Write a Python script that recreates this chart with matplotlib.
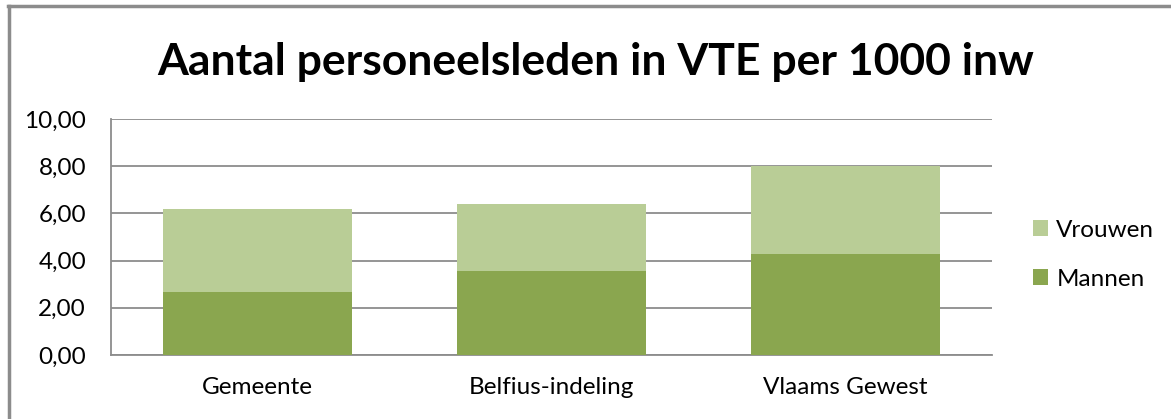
import matplotlib.pyplot as plt
import numpy as np
from matplotlib.lines import Line2D

plt.rcParams['font.family'] = ['Lato', 'DejaVu Sans']

# data
categories = ['Gemeente', 'Belfius-indeling', 'Vlaams Gewest']
mannen = [2.67, 3.56, 4.28]
vrouwen = [3.52, 2.84, 3.73]
yticks = [0, 2, 4, 6, 8, 10]

c_man = '#8AA64F'
c_vrouw = '#B9CD96'
c_grid = '#8C8C8C'

fig = plt.figure(figsize=(11.71, 4.19), dpi=100)
ax = fig.add_axes([111/1171, 1-355/419, (992-111)/1171, (355-119)/419])

x = np.arange(len(categories))
ax.bar(x, mannen, width=0.643, color=c_man, label='Mannen', zorder=3)
ax.bar(x, vrouwen, bottom=mannen, width=0.643, color=c_vrouw, label='Vrouwen', zorder=3)

ax.set_xlim(-0.5, 2.5)
ax.set_ylim(0, 10)
ax.set_yticks(yticks)
ax.yaxis.set_major_formatter(plt.FuncFormatter(lambda v, p: ('%.2f' % v).replace('.', ',')))
ax.set_xticks(x)
ax.set_xticklabels(categories)
ax.tick_params(axis='both', length=0, labelsize=17.5, colors='black')
ax.tick_params(axis='y', pad=18)
ax.tick_params(axis='x', pad=15.5)

ax.grid(axis='y', color=c_grid, lw=1.3, zorder=0)
for s in ['top', 'right']:
    ax.spines[s].set_visible(False)
for s in ['left', 'bottom']:
    ax.spines[s].set_color(c_grid)
    ax.spines[s].set_linewidth(1.3)

h, l = ax.get_legend_handles_labels()
ax.legend(h[::-1], l[::-1], loc='center left', bbox_to_anchor=(1.022, 0.425), frameon=False,
          fontsize=17.5, handlelength=0.6, handleheight=0.6, handletextpad=0.35, labelspacing=1.15)

fig.text(0.509, 1-62/419, 'Aantal personeelsleden in VTE per 1000 inw', ha='center', va='center',
         fontsize=32, fontweight='bold')

# outer chart border
fig.add_artist(Line2D([8/1171, 1], [1-6/419, 1-6/419], color=c_grid, lw=2.5, transform=fig.transFigure))
fig.add_artist(Line2D([8.5/1171, 8.5/1171], [0, 1-6/419], color=c_grid, lw=2.5, transform=fig.transFigure))

fig.savefig('out.png', dpi=100)
